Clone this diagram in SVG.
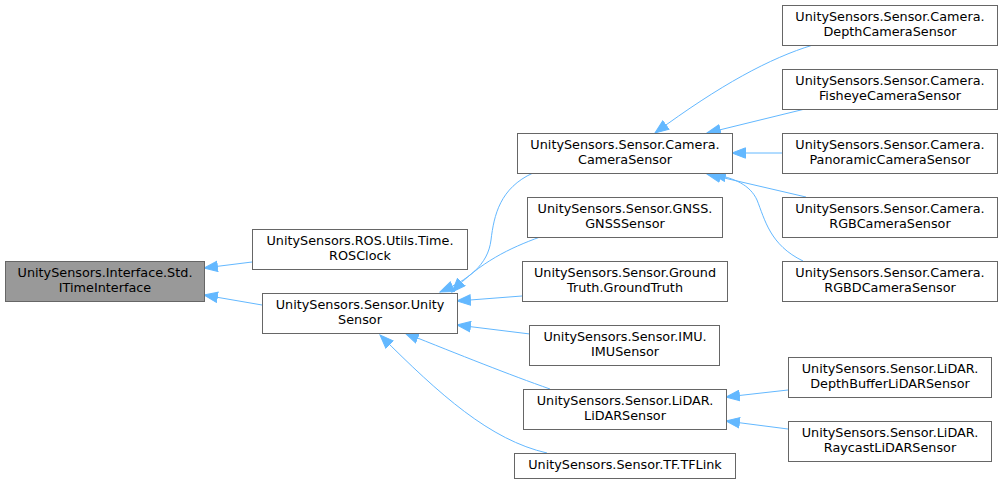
<svg xmlns="http://www.w3.org/2000/svg" width="1003" height="485" viewBox="0 0 1003 485">
<style>
.n rect{fill:#fff;stroke:#666;stroke-width:1}
.n text{font-family:"DejaVu Sans",sans-serif;font-size:12.8px;fill:#000;text-anchor:middle}
.e path{fill:none;stroke:#63b8ff;stroke-width:1;marker-end:url(#a)}
</style>
<defs>
<marker id="a" markerUnits="userSpaceOnUse" markerWidth="16" markerHeight="12" refX="14" refY="6" orient="auto">
<path d="M0.5,0.8 L14,6 L0.5,11.2 z" fill="#63b8ff" stroke="#63b8ff" stroke-width="1"/>
</marker>
</defs>
<rect width="1003" height="485" fill="#fff"/>
<g id="edges" class="e">
<path d="M252,262 L204,268"/>
<path d="M262,305 L204,295"/>
<path d="M533,173 C 500,188 494,215 491,240 C 488,265 468,280 440,292"/>
<path d="M540,237 C 510,248 480,262 452,292"/>
<path d="M522,296 L457,301"/>
<path d="M530,334 L457,325"/>
<path d="M550,389 C 510,375 460,355 405,333"/>
<path d="M547,453 C 490,440 440,395 380,335"/>
<path d="M813,45 C 770,58 720,85 655,133"/>
<path d="M805,109 L707,133"/>
<path d="M782,153 L732,153"/>
<path d="M806,197 L707,174"/>
<path d="M803,261 C 770,245 765,220 757,200 C 750,185 735,178 712,174"/>
<path d="M788,390 L726,397"/>
<path d="M788,429 L726,421"/>
</g>
<g id="ITimeInterface" class="n"><rect x="5.5" y="261.5" width="199" height="40" style="fill:#999"/><text x="105" y="277">UnitySensors.Interface.Std.</text><text x="105" y="291.5">ITimeInterface</text></g>
<g id="ROSClock" class="n"><rect x="252.5" y="229.5" width="215" height="40"/><text x="360" y="245">UnitySensors.ROS.Utils.Time.</text><text x="360" y="259.5">ROSClock</text></g>
<g id="UnitySensor" class="n"><rect x="262.5" y="293.5" width="195" height="40"/><text x="360" y="309">UnitySensors.Sensor.Unity</text><text x="360" y="323.5">Sensor</text></g>
<g id="CameraSensor" class="n"><rect x="517.5" y="133.5" width="215" height="40"/><text x="625" y="149">UnitySensors.Sensor.Camera.</text><text x="625" y="163.5">CameraSensor</text></g>
<g id="GNSSSensor" class="n"><rect x="527.5" y="197.5" width="195" height="40"/><text x="625" y="213">UnitySensors.Sensor.GNSS.</text><text x="625" y="227.5">GNSSSensor</text></g>
<g id="GroundTruth" class="n"><rect x="522.5" y="261.5" width="205" height="40"/><text x="625" y="277">UnitySensors.Sensor.Ground</text><text x="625" y="291.5">Truth.GroundTruth</text></g>
<g id="IMUSensor" class="n"><rect x="529.5" y="325.5" width="190" height="40"/><text x="625" y="341">UnitySensors.Sensor.IMU.</text><text x="625" y="355.5">IMUSensor</text></g>
<g id="LiDARSensor" class="n"><rect x="523.5" y="389.5" width="203" height="40"/><text x="625" y="405">UnitySensors.Sensor.LiDAR.</text><text x="625" y="419.5">LiDARSensor</text></g>
<g id="TFLink" class="n"><rect x="514.5" y="453.5" width="221" height="25"/><text x="625" y="468.5">UnitySensors.Sensor.TF.TFLink</text></g>
<g id="DepthCameraSensor" class="n"><rect x="782.5" y="5.5" width="215" height="40"/><text x="890" y="21">UnitySensors.Sensor.Camera.</text><text x="890" y="35.5">DepthCameraSensor</text></g>
<g id="FisheyeCameraSensor" class="n"><rect x="782.5" y="69.5" width="215" height="40"/><text x="890" y="85">UnitySensors.Sensor.Camera.</text><text x="890" y="99.5">FisheyeCameraSensor</text></g>
<g id="PanoramicCameraSensor" class="n"><rect x="782.5" y="133.5" width="215" height="40"/><text x="890" y="149">UnitySensors.Sensor.Camera.</text><text x="890" y="163.5">PanoramicCameraSensor</text></g>
<g id="RGBCameraSensor" class="n"><rect x="782.5" y="197.5" width="215" height="40"/><text x="890" y="213">UnitySensors.Sensor.Camera.</text><text x="890" y="227.5">RGBCameraSensor</text></g>
<g id="RGBDCameraSensor" class="n"><rect x="782.5" y="261.5" width="215" height="40"/><text x="890" y="277">UnitySensors.Sensor.Camera.</text><text x="890" y="291.5">RGBDCameraSensor</text></g>
<g id="DepthBufferLiDARSensor" class="n"><rect x="788.5" y="357.5" width="203" height="40"/><text x="890" y="373">UnitySensors.Sensor.LiDAR.</text><text x="890" y="387.5">DepthBufferLiDARSensor</text></g>
<g id="RaycastLiDARSensor" class="n"><rect x="788.5" y="421.5" width="203" height="40"/><text x="890" y="437">UnitySensors.Sensor.LiDAR.</text><text x="890" y="451.5">RaycastLiDARSensor</text></g>
</svg>
